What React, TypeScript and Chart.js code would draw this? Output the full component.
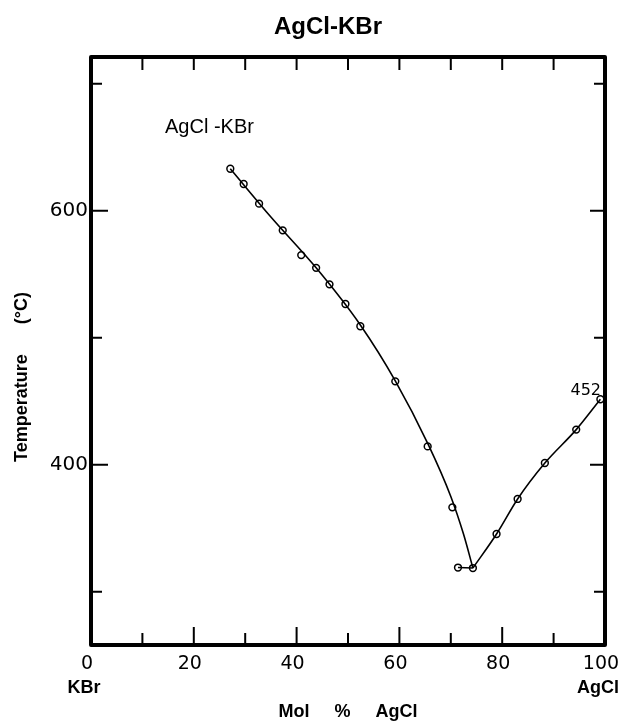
import React, { useEffect, useRef } from 'react';
import { Chart, registerables } from 'chart.js';

Chart.register(...registerables);

// ---- text ----
const titleText = 'AgCl-KBr';
const insetLabel = 'AgCl -KBr';
const xAxisTitle = 'Mol     %     AgCl';
const yAxisTitle = 'Temperature      (°C)';
const xLeftEndLabel = 'KBr';
const xRightEndLabel = 'AgCl';
const meltLabel = '452';

// ---- axes ----
const xMin = 0;
const xMax = 100;
const xStep = 10;
const xLabeledTicks = [0, 20, 40, 60, 80, 100];
const yMin = 258;
const yMax = 721;
const yStep = 100;
const yLabeledTicks = [400, 600];

// ---- observed points (mol % AgCl, temperature °C) ----
const obsX = [27.1, 29.7, 32.7, 37.3, 40.9, 43.8, 46.4, 49.5, 52.4, 59.2, 65.5, 70.3, 71.4, 74.3, 78.9, 83.0, 88.3, 94.4, 99.1];
const obsY = [633, 621, 605.5, 584.5, 565, 555, 542, 526.5, 509, 465.6, 414.4, 366.4, 319, 318.6, 345.4, 373, 401.3, 427.6, 451.5];

// ---- drawn liquidus curves ----
const leftCurveX = [27.1, 35.0, 43.8, 52.4, 59.2, 65.6, 70.0, 72.5, 74.3];
const leftCurveY = [633, 595, 555, 510, 466, 416, 375, 345, 318.6];
const rightCurveX = [74.3, 78.9, 83.0, 88.3, 94.4, 99.1];
const rightCurveY = [318.6, 345.4, 373, 401.3, 427.6, 451.5];
const tieX = [71.4, 74.3];
const tieY = [319, 318.6];

const zip = (xs: number[], ys: number[]) => xs.map((x, i) => ({ x, y: ys[i] }));

const framePlugin = {
  id: 'frameAndText',
  afterDraw(chart: any) {
    const { ctx, chartArea, scales } = chart;
    const { left, right, top, bottom } = chartArea;
    const xs = scales.x;
    const ys = scales.y;
    ctx.save();
    ctx.strokeStyle = '#000';
    ctx.lineCap = 'butt';
    // inward tick marks
    ctx.lineWidth = 2;
    xs.ticks.forEach((t: any) => {
      const v = t.value;
      if (v <= xMin || v >= xMax) return;
      const px = xs.getPixelForValue(v);
      const major = v % 20 === 0;
      ctx.beginPath();
      ctx.moveTo(px, bottom);
      ctx.lineTo(px, bottom - (major ? 18 : 12));
      ctx.moveTo(px, top);
      ctx.lineTo(px, top + 13);
      ctx.stroke();
    });
    ys.ticks.forEach((t: any) => {
      const v = t.value;
      const py = ys.getPixelForValue(v);
      const major = yLabeledTicks.includes(v);
      ctx.beginPath();
      ctx.moveTo(left, py);
      ctx.lineTo(left + (major ? 17 : 11), py);
      ctx.moveTo(right, py);
      ctx.lineTo(right - (major ? 15 : 11), py);
      ctx.stroke();
    });
    // frame
    ctx.lineWidth = 4;
    ctx.lineJoin = 'round';
    ctx.strokeRect(left, top, right - left, bottom - top);

    ctx.fillStyle = '#000';
    // inset label
    ctx.font = '20px "Liberation Sans", Arial, sans-serif';
    ctx.textAlign = 'left';
    ctx.textBaseline = 'middle';
    ctx.fillText(insetLabel, 165, 127);
    // 452 label
    ctx.font = '16px "DejaVu Sans", sans-serif';
    ctx.textAlign = 'right';
    ctx.fillText(meltLabel, 601, 391);
    // end labels
    ctx.font = 'bold 18px "Liberation Sans", Arial, sans-serif';
    ctx.textAlign = 'center';
    ctx.fillText(xLeftEndLabel, 84, 688);
    ctx.textAlign = 'right';
    ctx.fillText(xRightEndLabel, 619, 688);
    // y axis title
    ctx.translate(22, 377);
    ctx.rotate(-Math.PI / 2);
    ctx.textAlign = 'center';
    ctx.fillText(yAxisTitle, 0, 0);
    ctx.restore();
  },
};

export default function App() {
  const canvasRef = useRef<HTMLCanvasElement>(null);

  useEffect(() => {
    if (!canvasRef.current) return;
    const lineBase = {
      borderColor: '#000',
      borderWidth: 1.6,
      pointRadius: 0,
      fill: false,
      clip: false as any,
    };
    const chart = new Chart(canvasRef.current, {
      type: 'line',
      data: {
        datasets: [
          { ...lineBase, label: 'liquidus KBr', data: zip(leftCurveX, leftCurveY), cubicInterpolationMode: 'monotone' },
          { ...lineBase, label: 'liquidus AgCl', data: zip(rightCurveX, rightCurveY), cubicInterpolationMode: 'monotone' },
          { ...lineBase, label: 'eutectic', data: zip(tieX, tieY), tension: 0 },
          {
            label: 'observed',
            data: zip(obsX, obsY),
            showLine: false,
            pointRadius: 3.4,
            pointBorderWidth: 1.5,
            pointBorderColor: '#000',
            pointBackgroundColor: '#fff',
            clip: false as any,
          },
        ],
      },
      options: {
        animation: false,
        responsive: true,
        maintainAspectRatio: false,
        layout: { padding: { left: 51, right: 17, top: 0, bottom: 0 } },
        plugins: {
          legend: { display: false },
          tooltip: { enabled: false },
          title: {
            display: true,
            text: titleText,
            color: '#000',
            font: { family: '"Liberation Sans", Arial, sans-serif', size: 24, weight: 'bold' },
            padding: { top: 13, bottom: 15.2 },
          },
        },
        scales: {
          x: {
            type: 'linear',
            min: xMin,
            max: xMax,
            grid: { display: false, drawTicks: false },
            border: { display: false },
            ticks: {
              stepSize: xStep,
              autoSkip: false,
              maxRotation: 0,
              padding: 8,
              labelOffset: -4,
              color: '#000',
              font: { family: '"DejaVu Sans", sans-serif', size: 19 },
              callback: (v: any) => (xLabeledTicks.includes(Number(v)) ? String(v) : ''),
            },
            title: {
              display: true,
              text: xAxisTitle,
              color: '#000',
              font: { family: '"Liberation Sans", Arial, sans-serif', size: 18, weight: 'bold' },
              padding: { top: 0, bottom: 0 },
            },
            afterFit: (s: any) => {
              s.height = 78;
              s.paddingLeft = 0;
              s.paddingRight = 0;
            },
          },
          y: {
            type: 'linear',
            min: yMin,
            max: yMax,
            grid: { display: false, drawTicks: false },
            border: { display: false },
            ticks: {
              stepSize: yStep,
              includeBounds: false,
              autoSkip: false,
              padding: 3,
              color: '#000',
              font: { family: '"DejaVu Sans", sans-serif', size: 20 },
              callback: (v: any) => (yLabeledTicks.includes(Number(v)) ? String(v) : ''),
            },
            afterFit: (s: any) => {
              s.width = 40;
              s.paddingTop = 0;
              s.paddingBottom = 0;
            },
          },
        },
      } as any,
      plugins: [framePlugin],
    });
    return () => chart.destroy();
  }, []);

  return (
    <div style={{ position: 'fixed', left: 0, top: 0, width: 622, height: 723, background: '#fff' }}>
      <canvas ref={canvasRef} />
    </div>
  );
}
